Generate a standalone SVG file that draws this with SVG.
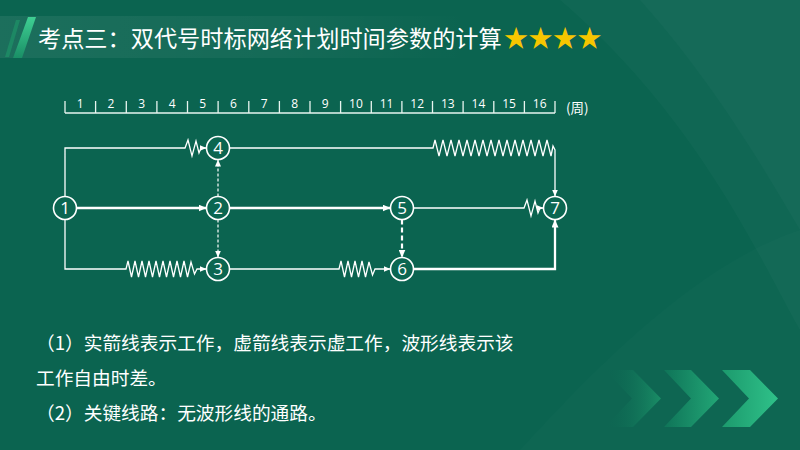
<svg xmlns="http://www.w3.org/2000/svg" width="800" height="450" viewBox="0 0 800 450">
  <defs>
    <style>
      .ln{fill:none;stroke:#ffffff;stroke-width:1.3;stroke-linejoin:miter}
      .thick{fill:none;stroke:#ffffff;stroke-width:2.3}
      .dash{fill:none;stroke:#ffffff;stroke-width:1.2;stroke-dasharray:3 2}
      .dashthick{fill:none;stroke:#ffffff;stroke-width:2.2;stroke-dasharray:5 3}
      .node circle{fill:#0b6651;stroke:#ffffff;stroke-width:1.6}
      .node text{font-family:"Open Sans","Noto Sans",sans-serif;font-size:17px;fill:#ffffff;text-anchor:middle}
      .axis{fill:none;stroke:#e8f5ef;stroke-width:1.3}
      .num{font-family:"Open Sans","Noto Sans",sans-serif;font-size:12px;fill:#ffffff;text-anchor:middle}
      .note{font-family:"Noto Sans CJK SC","Noto Sans",sans-serif;font-size:18.7px;fill:#ffffff}
    </style>
    <marker id="arr" viewBox="0 0 8 7" refX="8" refY="3.5" markerWidth="8" markerHeight="7" markerUnits="userSpaceOnUse" orient="auto">
      <path d="M0,0 L8,3.5 L0,7 z" fill="#ffffff"/>
    </marker>
    <marker id="arrS" viewBox="0 0 7 6" refX="7" refY="3" markerWidth="7" markerHeight="6" markerUnits="userSpaceOnUse" orient="auto">
      <path d="M0,0 L7,3 L0,6 z" fill="#ffffff"/>
    </marker>
    <linearGradient id="band" x1="0" y1="0" x2="1" y2="0">
      <stop offset="0" stop-color="#ffffff" stop-opacity="0.07"/>
      <stop offset="0.6" stop-color="#ffffff" stop-opacity="0.04"/>
      <stop offset="1" stop-color="#ffffff" stop-opacity="0"/>
    </linearGradient>
    <linearGradient id="slash" x1="0" y1="0" x2="0" y2="1">
      <stop offset="0" stop-color="#3fcf93"/>
      <stop offset="1" stop-color="#1a8f66"/>
    </linearGradient>
    <linearGradient id="ch3" x1="0" y1="0" x2="1" y2="0">
      <stop offset="0" stop-color="#1c9a6d"/>
      <stop offset="1" stop-color="#2fc189"/>
    </linearGradient>
    <linearGradient id="ch2" x1="0" y1="0" x2="1" y2="0">
      <stop offset="0" stop-color="#0f7458"/>
      <stop offset="1" stop-color="#22a676"/>
    </linearGradient>
    <linearGradient id="ch1" x1="0" y1="0" x2="1" y2="0">
      <stop offset="0" stop-color="#0b6651" stop-opacity="0"/>
      <stop offset="1" stop-color="#1a8d66"/>
    </linearGradient>
  </defs>

  <!-- background -->
  <rect x="0" y="0" width="800" height="450" fill="#0b6450"/>
  <g id="decor">
    <path d="M560,0 C700,120 760,260 800,330 L800,0 Z" fill="#ffffff" opacity="0.025"/>
    <path d="M640,0 C720,90 770,180 800,230 L800,0 Z" fill="#ffffff" opacity="0.025"/>
    <path d="M520,450 C620,340 710,260 800,230 L800,450 Z" fill="#ffffff" opacity="0.015"/>
  </g>

  <!-- title -->
  <g id="title">
    <rect x="0" y="16" width="470" height="42" fill="url(#band)"/>
    <polygon points="16,20 20,20 9,57 5,57" fill="#1e8f67" opacity="0.8"/>
    <polygon points="28,17 36,17 22,58 13,58" fill="url(#slash)"/>
    <text x="38" y="47" font-family="'Noto Sans CJK SC','Noto Sans',sans-serif" font-size="23.2" fill="#ffffff">考点三：双代号时标网络计划时间参数的计算<tspan fill="#f7c600" font-size="24.5" dx="2">★★★★</tspan></text>
  </g>

  <!-- time axis -->
  <g id="axis">
    <path class="axis" d="M65,113 H555 M65,101 V113 M95.6,101 V113 M126.3,101 V113 M156.9,101 V113 M187.5,101 V113 M218.1,101 V113 M248.8,101 V113 M279.4,101 V113 M310,101 V113 M340.6,101 V113 M371.3,101 V113 M401.9,101 V113 M432.5,101 V113 M463.1,101 V113 M493.8,101 V113 M524.4,101 V113 M555,101 V113"/>
    <text class="num" x="80.3" y="108">1</text>
    <text class="num" x="110.9" y="108">2</text>
    <text class="num" x="141.6" y="108">3</text>
    <text class="num" x="172.2" y="108">4</text>
    <text class="num" x="202.8" y="108">5</text>
    <text class="num" x="233.4" y="108">6</text>
    <text class="num" x="264.1" y="108">7</text>
    <text class="num" x="294.7" y="108">8</text>
    <text class="num" x="325.3" y="108">9</text>
    <text class="num" x="355.9" y="108">10</text>
    <text class="num" x="386.6" y="108">11</text>
    <text class="num" x="417.2" y="108">12</text>
    <text class="num" x="447.8" y="108">13</text>
    <text class="num" x="478.4" y="108">14</text>
    <text class="num" x="509.1" y="108">15</text>
    <text class="num" x="539.7" y="108">16</text>
    <text x="566" y="113" font-family="'Noto Sans CJK SC','Noto Sans',sans-serif" font-size="13.5" fill="#ffffff">(周)</text>
  </g>

  <!-- connectors -->
  <g id="connectors">
    <path class="ln" marker-end="url(#arrS)" d="M65,196.5 V148 H185 L188,140 L192,156 L196,141 L199,153 L201,148 H206.5"/>
    <path class="thick" marker-end="url(#arr)" d="M76.5,208 H206.5"/>
    <path class="ln" marker-end="url(#arrS)" d="M65,219.5 V269 H126 L128,261 L131.5,277 L135,261 L138.5,277 L142,261 L145.5,277 L149,261 L152.5,277 L156,261 L159.5,277 L163,261 L166.5,277 L170,261 L173.5,277 L177,261 L180.5,277 L184,261 L187.5,277 L191,262 L194.5,274 L197,269 H206.5"/>
    <path class="dash" marker-end="url(#arrS)" d="M218,196.5 V159.5"/>
    <path class="dash" marker-end="url(#arrS)" d="M218,219.5 V257.5"/>
    <path class="ln" marker-end="url(#arrS)" d="M229.5,148 H433 L435,140 L439,156 L443,140 L447,156 L451,140 L455,156 L459,140 L463,156 L467,140 L471,156 L475,140 L479,156 L483,140 L487,156 L491,140 L495,156 L499,140 L503,156 L507,140 L511,156 L515,140 L519,156 L523,140 L527,156 L531,140 L535,156 L539,140 L543,156 L547,140 L551,156 L553,146 L555,150 V196.5"/>
    <path class="thick" marker-end="url(#arr)" d="M229.5,208 H390.5"/>
    <path class="ln" marker-end="url(#arrS)" d="M413.5,208 H524 L527,200 L531,216 L535,201 L538,213 L540,208 H543.5"/>
    <path class="dashthick" marker-end="url(#arr)" d="M402,219.5 V257.5"/>
    <path class="ln" marker-end="url(#arrS)" d="M229.5,269 H339 L341,261 L344.5,277 L348,261 L351.5,277 L355,261 L358.5,277 L362,261 L365.5,277 L369,262 L372.5,275 L375,269 H390.5"/>
    <path class="thick" marker-end="url(#arr)" d="M413.5,269 H555 V219.5"/>
  </g>

  <!-- nodes -->
  <g id="node-1" class="node"><circle cx="65" cy="208" r="11.5"/><text x="65" y="214">1</text></g>
  <g id="node-2" class="node"><circle cx="218" cy="208" r="11.5"/><text x="218" y="214">2</text></g>
  <g id="node-3" class="node"><circle cx="218" cy="269" r="11.5"/><text x="218" y="275">3</text></g>
  <g id="node-4" class="node"><circle cx="218" cy="148" r="11.5"/><text x="218" y="154">4</text></g>
  <g id="node-5" class="node"><circle cx="402" cy="208" r="11.5"/><text x="402" y="214">5</text></g>
  <g id="node-6" class="node"><circle cx="402" cy="269" r="11.5"/><text x="402" y="275">6</text></g>
  <g id="node-7" class="node"><circle cx="555" cy="208" r="11.5"/><text x="555" y="214">7</text></g>

  <!-- notes -->
  <g id="notes">
    <text class="note" x="36" y="350">（1）实箭线表示工作，虚箭线表示虚工作，波形线表示该</text>
    <text class="note" x="36" y="385">工作自由时差。</text>
    <text class="note" x="36" y="420">（2）关键线路：无波形线的通路。</text>
  </g>

  <!-- chevrons -->
  <g id="chevrons">
    <polygon points="605,370 633,370 661,398.5 633,427 605,427 632,398.5" fill="url(#ch1)"/>
    <polygon points="664,370 691,370 719,398.5 691,427 664,427 691,398.5" fill="url(#ch2)"/>
    <polygon points="722,370 750,370 778,398.5 750,427 722,427 749,398.5" fill="url(#ch3)"/>
  </g>
</svg>
